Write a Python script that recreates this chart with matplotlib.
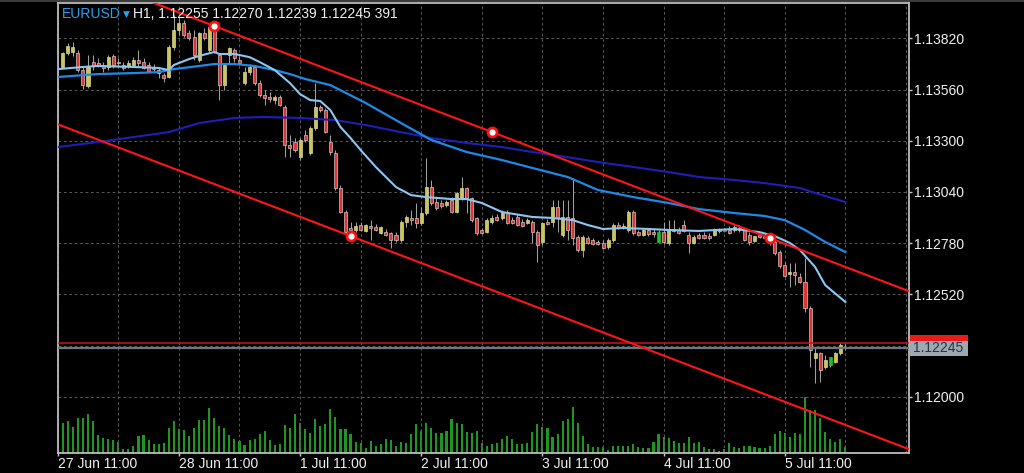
import matplotlib
matplotlib.use('Agg')
import matplotlib.pyplot as plt
from matplotlib.patches import Rectangle
from matplotlib.transforms import blended_transform_factory
import numpy as np

plt.rcParams['font.family'] = ['Liberation Sans', 'DejaVu Sans']

# EURUSD H1, bar 1 = 27 Jun 12:00 (bar 0 would be 27 Jun 11:00)
opens = [1.13675, 1.13746, 1.13751, 1.13746, 1.13659, 1.13578, 1.13700, 1.13695, 1.13685, 1.13675,
         1.13731, 1.13700, 1.13685, 1.13680, 1.13685, 1.13710, 1.13700, 1.13685, 1.13675, 1.13644,
         1.13634, 1.13624, 1.13776, 1.13863, 1.13898, 1.13847, 1.13827, 1.13710, 1.13847, 1.13761,
         1.13878, 1.13736, 1.13583, 1.13736, 1.13761, 1.13710, 1.13593, 1.13649, 1.13675, 1.13593,
         1.13532, 1.13522, 1.13507, 1.13522, 1.13471, 1.13278, 1.13294, 1.13217, 1.13329, 1.13238,
         1.13365, 1.13471, 1.13456, 1.13294, 1.13238, 1.13060, 1.12938, 1.12857, 1.12847, 1.12872,
         1.12842, 1.12867, 1.12862, 1.12831, 1.12836, 1.12831, 1.12821, 1.12796, 1.12887, 1.12908,
         1.12908, 1.12882, 1.12933, 1.13065, 1.12989, 1.12984, 1.12974, 1.12999, 1.12938, 1.13009,
         1.13060, 1.13009, 1.12908, 1.12847, 1.12836, 1.12887, 1.12913, 1.12908, 1.12933, 1.12897,
         1.12913, 1.12887, 1.12882, 1.12887, 1.12836, 1.12786, 1.12887, 1.12887, 1.12963, 1.12821,
         1.12913, 1.12908, 1.12811, 1.12745, 1.12806, 1.12796, 1.12786, 1.12781, 1.12760, 1.12796,
         1.12872, 1.12862, 1.12847, 1.12938, 1.12836, 1.12821, 1.12847, 1.12836, 1.12786, 1.12836,
         1.12781, 1.12852, 1.12847, 1.12872, 1.12821, 1.12781, 1.12821, 1.12821, 1.12816, 1.12821,
         1.12847, 1.12842, 1.12847, 1.12847, 1.12857, 1.12847, 1.12821, 1.12791, 1.12821, 1.12816,
         1.12806, 1.12786, 1.12735, 1.12669, 1.12623, 1.12633, 1.12608, 1.12582, 1.12450, 1.12196,
         1.12222, 1.12151, 1.12161, 1.12176, 1.12222, 1.12255]
highs = [1.13751, 1.13797, 1.13802, 1.13761, 1.13675, 1.13736, 1.13736, 1.13720, 1.13700, 1.13736,
         1.13741, 1.13720, 1.13700, 1.13710, 1.13725, 1.13761, 1.13720, 1.13700, 1.13690, 1.13670,
         1.13644, 1.13786, 1.13939, 1.13924, 1.13913, 1.13863, 1.13863, 1.13852, 1.13873, 1.13898,
         1.13883, 1.13746, 1.13695, 1.13776, 1.13771, 1.13731, 1.13675, 1.13690, 1.13685, 1.13609,
         1.13558, 1.13548, 1.13532, 1.13532, 1.13482, 1.13329, 1.13314, 1.13314, 1.13355, 1.13375,
         1.13593, 1.13482, 1.13466, 1.13329, 1.13253, 1.13075, 1.12948, 1.12887, 1.12887, 1.12887,
         1.12877, 1.12897, 1.12877, 1.12867, 1.12852, 1.12836, 1.12836, 1.12897, 1.12923, 1.12948,
         1.12984, 1.12963, 1.13212, 1.13101, 1.13009, 1.12999, 1.12999, 1.13014, 1.13040, 1.13116,
         1.13065, 1.13014, 1.12913, 1.12857, 1.12908, 1.12923, 1.12928, 1.12948, 1.12948, 1.12913,
         1.12928, 1.12903, 1.12908, 1.12897, 1.12847, 1.12887, 1.12903, 1.12999, 1.12999, 1.12999,
         1.12999, 1.13111, 1.12821, 1.12821, 1.12816, 1.12806, 1.12796, 1.12796, 1.12806, 1.12882,
         1.12887, 1.12882, 1.12948, 1.12948, 1.12847, 1.12857, 1.12857, 1.12852, 1.12847, 1.12887,
         1.12897, 1.12897, 1.12862, 1.12897, 1.12836, 1.12821, 1.12831, 1.12836, 1.12831, 1.12857,
         1.12857, 1.12857, 1.12867, 1.12872, 1.12872, 1.12862, 1.12836, 1.12816, 1.12831, 1.12826,
         1.12816, 1.12796, 1.12745, 1.12684, 1.12679, 1.12679, 1.12628, 1.12704, 1.12461, 1.12252,
         1.12227, 1.12212, 1.12201, 1.12227, 1.12273, 1.12270]
lows = [1.13670, 1.13736, 1.13731, 1.13649, 1.13563, 1.13568, 1.13659, 1.13675, 1.13649, 1.13659,
        1.13670, 1.13680, 1.13659, 1.13670, 1.13675, 1.13675, 1.13665, 1.13649, 1.13654, 1.13619,
        1.13598, 1.13619, 1.13761, 1.13837, 1.13827, 1.13812, 1.13710, 1.13700, 1.13812, 1.13751,
        1.13746, 1.13507, 1.13558, 1.13695, 1.13700, 1.13685, 1.13583, 1.13634, 1.13583, 1.13522,
        1.13482, 1.13497, 1.13487, 1.13477, 1.13217, 1.13217, 1.13243, 1.13202, 1.13294, 1.13228,
        1.13355, 1.13446, 1.13339, 1.13228, 1.13050, 1.12933, 1.12831, 1.12816, 1.12836, 1.12842,
        1.12836, 1.12796, 1.12842, 1.12826, 1.12816, 1.12755, 1.12786, 1.12786, 1.12862, 1.12872,
        1.12857, 1.12872, 1.12923, 1.12974, 1.12948, 1.12958, 1.12963, 1.12933, 1.12933, 1.12999,
        1.12933, 1.12887, 1.12821, 1.12826, 1.12831, 1.12877, 1.12892, 1.12897, 1.12877, 1.12877,
        1.12867, 1.12862, 1.12877, 1.12781, 1.12684, 1.12770, 1.12872, 1.12862, 1.12836, 1.12811,
        1.12796, 1.12770, 1.12735, 1.12709, 1.12775, 1.12770, 1.12770, 1.12750, 1.12750, 1.12786,
        1.12852, 1.12852, 1.12836, 1.12821, 1.12816, 1.12816, 1.12816, 1.12811, 1.12781, 1.12775,
        1.12770, 1.12836, 1.12826, 1.12836, 1.12730, 1.12775, 1.12801, 1.12801, 1.12796, 1.12816,
        1.12831, 1.12836, 1.12826, 1.12836, 1.12836, 1.12791, 1.12770, 1.12786, 1.12806, 1.12801,
        1.12770, 1.12720, 1.12654, 1.12608, 1.12557, 1.12567, 1.12577, 1.12430, 1.12151, 1.12069,
        1.12074, 1.12140, 1.12151, 1.12171, 1.12212, 1.12239]
closes = [1.13746, 1.13781, 1.13776, 1.13659, 1.13583, 1.13675, 1.13680, 1.13685, 1.13670, 1.13725,
          1.13685, 1.13695, 1.13670, 1.13695, 1.13710, 1.13695, 1.13670, 1.13654, 1.13665, 1.13659,
          1.13619, 1.13776, 1.13863, 1.13898, 1.13837, 1.13822, 1.13736, 1.13847, 1.13822, 1.13878,
          1.13751, 1.13583, 1.13685, 1.13771, 1.13720, 1.13695, 1.13649, 1.13675, 1.13593, 1.13532,
          1.13517, 1.13512, 1.13522, 1.13482, 1.13278, 1.13263, 1.13253, 1.13304, 1.13304, 1.13365,
          1.13471, 1.13456, 1.13344, 1.13243, 1.13060, 1.12938, 1.12836, 1.12847, 1.12867, 1.12847,
          1.12872, 1.12857, 1.12847, 1.12862, 1.12821, 1.12796, 1.12796, 1.12887, 1.12913, 1.12897,
          1.12882, 1.12933, 1.13065, 1.12984, 1.12958, 1.12969, 1.12989, 1.12938, 1.13035, 1.13060,
          1.13009, 1.12897, 1.12831, 1.12831, 1.12897, 1.12908, 1.12897, 1.12933, 1.12882, 1.12882,
          1.12872, 1.12867, 1.12897, 1.12836, 1.12770, 1.12882, 1.12877, 1.12963, 1.12908, 1.12913,
          1.12847, 1.12806, 1.12745, 1.12811, 1.12781, 1.12775, 1.12775, 1.12755, 1.12796, 1.12872,
          1.12857, 1.12867, 1.12938, 1.12831, 1.12821, 1.12847, 1.12826, 1.12826, 1.12836, 1.12786,
          1.12847, 1.12842, 1.12831, 1.12842, 1.12781, 1.12811, 1.12806, 1.12806, 1.12806, 1.12847,
          1.12842, 1.12847, 1.12831, 1.12862, 1.12847, 1.12796, 1.12786, 1.12816, 1.12811, 1.12806,
          1.12781, 1.12730, 1.12664, 1.12613, 1.12633, 1.12618, 1.12582, 1.12450, 1.12237, 1.12222,
          1.12135, 1.12186, 1.12201, 1.12222, 1.12262, 1.12245]
volumes = [1866, 1948, 1579, 2173, 2173, 2419, 1948, 1087, 943, 882,
           779, 656, 246, 246, 410, 1025, 1087, 779, 554, 554,
           636, 1558, 1948, 1497, 1394, 1025, 1558, 2009, 2009, 2788,
           2173, 1640, 1558, 1087, 861, 718, 472, 779, 861, 1169,
           1333, 779, 492, 554, 1702, 1558, 2399, 1866, 1476, 1251,
           2091, 1640, 1784, 2727, 2235, 1476, 1476, 1148, 677, 636,
           308, 738, 451, 533, 841, 800, 451, 697, 615, 1148,
           1763, 1374, 1845, 1538, 1230, 1230, 1374, 2091, 1845, 1763,
           1312, 1230, 1374, 615, 451, 533, 615, 841, 1066, 841,
           533, 533, 615, 1312, 1763, 1620, 1538, 1005, 1148, 1989,
           2071, 2850, 1845, 1066, 533, 390, 390, 390, 205, 451,
           410, 410, 451, 533, 390, 308, 308, 697, 1148, 964,
           923, 759, 615, 615, 1005, 615, 697, 390, 226, 226,
           144, 226, 615, 390, 308, 451, 451, 390, 308, 308,
           451, 1148, 1374, 1230, 1005, 1230, 1148, 3465, 2665, 2624,
           2153, 1312, 841, 697, 841, 391]
green_bars = [119, 132, 153]

# moving averages
fast_idx = [0, 5, 8, 15, 20, 22, 23, 26, 28, 31, 32, 35, 38, 40, 43, 46, 48, 50, 52, 54,
            56, 58, 60, 63, 67, 70, 73, 78, 81, 84, 88, 94, 98, 102, 105, 108, 112, 117,
            121, 127, 134, 139, 142, 145, 147, 150, 152, 156]
fast_ma = [1.13664, 1.13675, 1.13680, 1.13675, 1.13670, 1.13659, 1.13685, 1.13715, 1.13731, 1.13751,
           1.13741, 1.13741, 1.13725, 1.13700, 1.13659, 1.13593, 1.13537, 1.13507, 1.13502, 1.13456,
           1.13370, 1.13314, 1.13253, 1.13167, 1.13065, 1.13024, 1.13014, 1.13004, 1.13004, 1.12984,
           1.12938, 1.12913, 1.12908, 1.12897, 1.12872, 1.12852, 1.12857, 1.12852, 1.12847, 1.12842,
           1.12852, 1.12836, 1.12816, 1.12781, 1.12745, 1.12659, 1.12567, 1.12481]
mid_idx = [0, 8, 15, 20, 23, 28, 31, 35, 39, 43, 46, 49, 54, 61, 68, 74, 81, 88, 94, 101,
           107, 114, 121, 127, 134, 140, 144, 148, 152, 156]
mid_ma = [1.13624, 1.13639, 1.13644, 1.13649, 1.13664, 1.13680, 1.13690, 1.13690, 1.13680, 1.13659,
          1.13639, 1.13614, 1.13583, 1.13492, 1.13390, 1.13304, 1.13243, 1.13202, 1.13162, 1.13116,
          1.13050, 1.13014, 1.12984, 1.12953, 1.12933, 1.12918, 1.12897, 1.12847, 1.12786, 1.12735]
slow_idx = [0, 8, 15, 22, 28, 35, 41, 48, 55, 61, 68, 74, 81, 88, 94, 101, 107, 114, 121, 127,
            134, 140, 147, 150, 156]
slow_ma = [1.13268, 1.13294, 1.13319, 1.13344, 1.13390, 1.13416, 1.13421, 1.13416, 1.13405, 1.13380,
           1.13344, 1.13314, 1.13289, 1.13268, 1.13243, 1.13217, 1.13192, 1.13167, 1.13141, 1.13116,
           1.13101, 1.13085, 1.13060, 1.13035, 1.12989]

# channel anchors
chan_idx = [31, 86, 141]
chan_px = [1.13883, 1.13345, 1.12806]
lower_idx = 58
lower_px = 1.12816

bid = 1.12245
ask = 1.12273

price_ticks = [1.12000, 1.12260, 1.12520, 1.12780, 1.13040, 1.13300, 1.13560, 1.13820]
label_idx = [0, 24, 48, 72, 96, 120, 144]
time_labels = ['27 Jun 11:00', '28 Jun 11:00', '1 Jul 11:00', '2 Jul 11:00',
               '3 Jul 11:00', '4 Jul 11:00', '5 Jul 11:00']

x = np.arange(1, len(opens) + 1)
o = np.array(opens)
c = np.array(closes)

fig = plt.figure(figsize=(10.24, 4.73), dpi=100, facecolor='black')
fig.add_artist(Rectangle((0, 1 - 2.5 / 473), 1, 2.5 / 473, transform=fig.transFigure,
                         color='#3c3c3c', lw=0))
rect = [57.7 / 1024, 20 / 473, 851.3 / 1024, 450 / 473]
vax = fig.add_axes(rect)
ax = fig.add_axes(rect, sharex=vax)
ax.set_facecolor('none')
vax.set_facecolor('black')

# volume
vax.bar(x, volumes, width=0.42, color='#1f961f', lw=0)
vax.set_ylim(0, 27700)
vax.set_yticks([])
vax.tick_params(axis='x', which='both', bottom=False, labelbottom=False)
for s in vax.spines.values():
    s.set_visible(False)

# grid and axes
ax.set_xlim(0, 168.6)
ax.set_ylim(1.11714, 1.14000)
ax.set_xticks(label_idx)
ax.set_xticks(np.arange(12, 169, 12), minor=True)
ax.set_xticklabels(time_labels, ha='left')
ax.set_yticks(price_ticks)
# the 1.12260 label sits under the bid box, so it is left blank
ax.set_yticklabels(['' if abs(t - bid) < 0.0002 else f'{t:.5f}' for t in price_ticks])
ax.yaxis.tick_right()
ax.set_axisbelow(True)
ax.grid(True, which='both', color='#575757', ls=(0, (2.6, 2.6)), lw=0.75)
ax.tick_params(axis='x', which='minor', length=0)
ax.tick_params(axis='both', which='major', colors='#c8c8c8', labelcolor='#f0f0f0',
               labelsize=10, length=2.5, width=1)
ax.tick_params(axis='x', pad=0.5)
ax.tick_params(axis='y', pad=1)
for s in ax.spines.values():
    s.set_color('#bdbdbd')
    s.set_linewidth(1.3)

# candles
ax.vlines(x, lows, highs, colors='#a0a0a0', lw=0.75, zorder=2)
body_lo = np.minimum(o, c)
body_h = np.maximum(np.abs(c - o), 0.00003)
fills = []
edges = []
for i in range(len(x)):
    if x[i] in green_bars:
        fills.append('#22c022')
        edges.append('#22c022')
    elif c[i] >= o[i]:
        fills.append('#cbc55e')
        edges.append('#dcd88e')
    else:
        fills.append('#dd3434')
        edges.append('#cfc4c4')
ax.bar(x, body_h, bottom=body_lo, width=0.6, color=fills, edgecolor=edges, lw=0.5, zorder=3)

# moving averages
ax.plot(slow_idx, slow_ma, color='#1f1fb8', lw=1.5, zorder=4)
ax.plot(mid_idx, mid_ma, color='#1e8ae6', lw=1.6, zorder=4)
ax.plot(fast_idx, fast_ma, color='#8cc6f2', lw=1.5, zorder=4)

# price lines
ax.axhline(ask, color='#c81818', lw=1.1, zorder=4)
ax.axhline(bid, color='#6e7884', lw=1.6, zorder=4)

# channel
slope = (chan_px[2] - chan_px[0]) / (chan_idx[2] - chan_idx[0])
ax.axline((chan_idx[0], chan_px[0]), slope=slope, color='#ff1515', lw=1.5, zorder=5)
ax.axline((lower_idx, lower_px), slope=slope, color='#ff1515', lw=1.5, zorder=5)
ax.plot(chan_idx + [lower_idx], chan_px + [lower_px], 'o', ls='none', ms=6.5,
        mfc='white', mec='#ff1010', mew=2, zorder=6)

# price boxes on the right (ask box mostly hidden under the bid box)
tr = blended_transform_factory(ax.transAxes, ax.transData)
px_price = (1.14000 - 1.11714) / 450
box_w = 58 / 851.3
half_h = 7.5 * px_price
ax.add_patch(Rectangle((1.0015, ask - half_h), box_w, 2 * half_h, transform=tr,
                       fc='#ee1a1a', ec='none', clip_on=False, zorder=9))
ax.add_patch(Rectangle((1.0015, bid - half_h), box_w, 2 * half_h, transform=tr,
                       fc='#9ea8b3', ec='none', clip_on=False, zorder=10))
ax.text(1.0015 + 3 / 851.3, bid, f'{bid:.5f}', transform=tr, ha='left', va='center',
        fontsize=10, color='#2a323c', clip_on=False, zorder=11)

# header
fig.text(62 / 1024, 1 - 14 / 473, 'EURUSD', color='#2f9fe8', fontsize=10, va='center')
fig.text(123 / 1024, 1 - 14.5 / 473, '\u25bc', color='#2f9fe8', fontsize=6.5, va='center',
         family=['DejaVu Sans'])
fig.text(133 / 1024, 1 - 14 / 473,
         f'H1, {opens[-1]:.5f} {highs[-1]:.5f} {lows[-1]:.5f} {closes[-1]:.5f} {volumes[-1]}',
         color='#f0f0f0', fontsize=10, va='center')

fig.savefig('out.png', dpi=100, facecolor='black')
